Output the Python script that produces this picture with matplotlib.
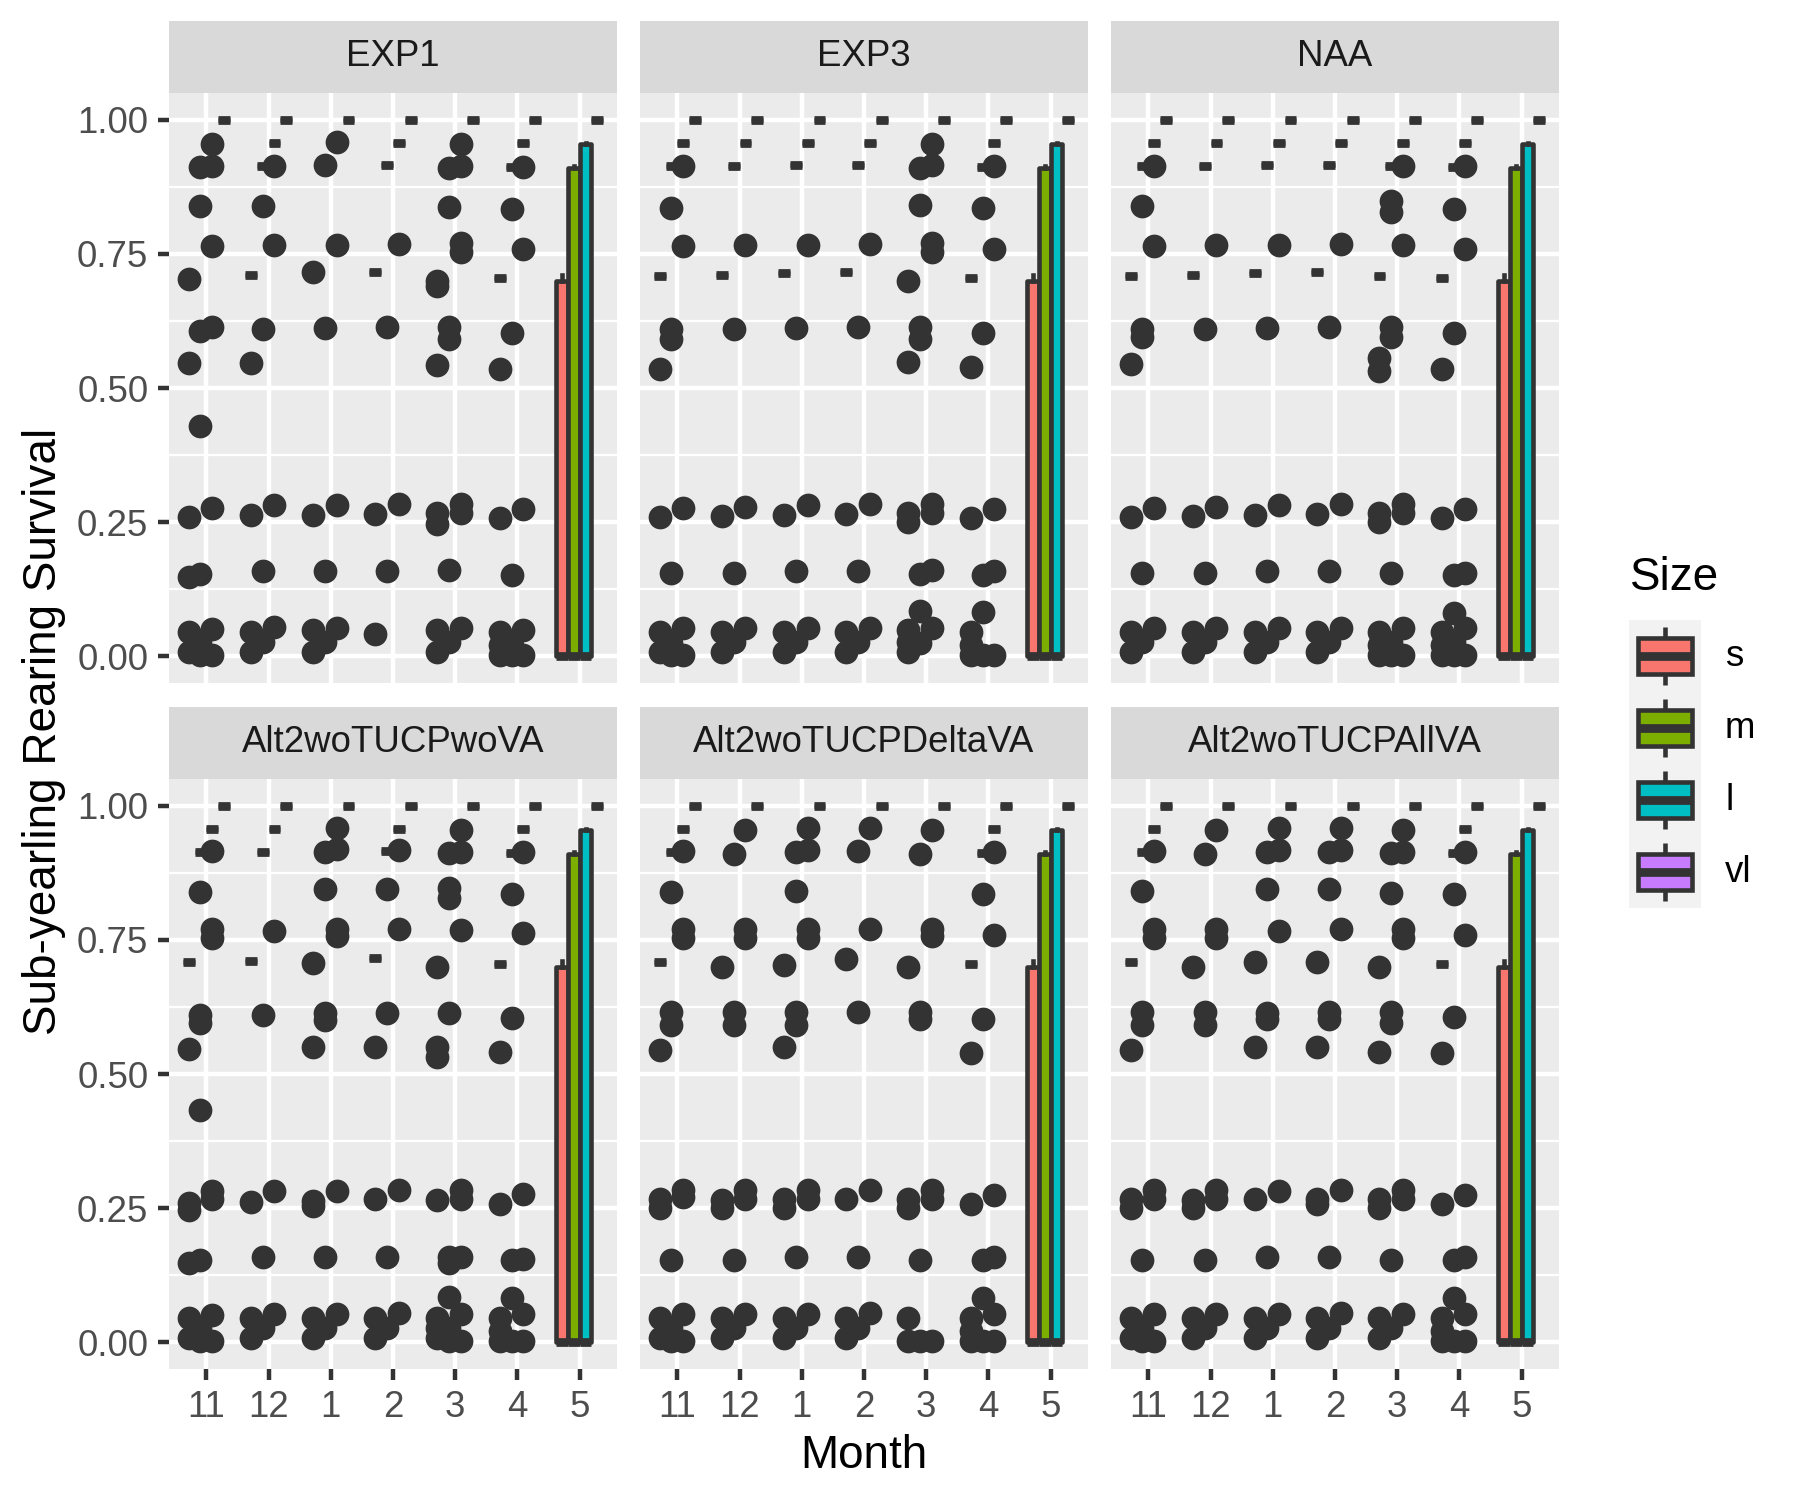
import matplotlib
matplotlib.use("Agg")
import matplotlib.pyplot as plt
from matplotlib.patches import Rectangle
from matplotlib.ticker import FixedLocator

plt.rcParams["font.family"] = ["Liberation Sans", "DejaVu Sans"]

# %% data
MONTHS = ["11", "12", "1", "2", "3", "4", "5"]
SIZES = ["s", "m", "l", "vl"]
SIZE_COLORS = ["#F8766D", "#7CAE00", "#00BFC4", "#C77CFF"]
PANELS = ["EXP1", "EXP3", "NAA",
          "Alt2woTUCPwoVA", "Alt2woTUCPDeltaVA", "Alt2woTUCPAllVA"]

# months 11..4: the boxes are collapsed to a single level
BOX_S = [0.709, 0.711, 0.714, 0.716, 0.708, 0.705]
BOX_M = [0.914, 0.914, 0.916, 0.916, 0.913, 0.912]
BOX_L = [0.957, 0.957, 0.957, 0.957, 0.957, 0.957]
BOX_VL = [1.0, 1.0, 1.0, 1.0, 1.0, 1.0]

# month 5 boxes (s, m, l, vl)
MAY_Q1 = [0.0, 0.0, 0.0, 1.0]
MAY_MED = [0.0, 0.0, 0.0, 1.0]
MAY_Q3 = [0.70, 0.91, 0.955, 1.0]
MAY_HI = [0.71, 0.914, 0.957, 1.0]

# outliers, months 11, 12, 1, 2, 3, 4
EXP1_S = [[0.703, 0.546, 0.26, 0.147, 0.045, 0.007], [0.546, 0.264, 0.045, 0.007],
          [0.716, 0.264, 0.048, 0.007], [0.266, 0.042],
          [0.70, 0.69, 0.543, 0.267, 0.247, 0.048, 0.007], [0.536, 0.257, 0.045, 0.02, 0.003]]
EXP1_M = [[0.912, 0.839, 0.606, 0.43, 0.154, 0.027, 0.003], [0.839, 0.61, 0.158, 0.027],
          [0.916, 0.612, 0.158, 0.027], [0.614, 0.159],
          [0.911, 0.838, 0.613, 0.592, 0.161, 0.027], [0.834, 0.603, 0.152, 0.02, 0.003]]
EXP1_L = [[0.955, 0.914, 0.764, 0.613, 0.277, 0.051, 0.003], [0.914, 0.767, 0.281, 0.055],
          [0.958, 0.767, 0.282, 0.053], [0.769, 0.284],
          [0.955, 0.914, 0.771, 0.753, 0.284, 0.267, 0.053], [0.912, 0.76, 0.274, 0.048, 0.003]]

EXP3_S = [[0.536, 0.26, 0.045, 0.007], [0.262, 0.045, 0.007], [0.264, 0.045, 0.007],
          [0.266, 0.045, 0.007], [0.70, 0.549, 0.267, 0.25, 0.048, 0.027, 0.007],
          [0.539, 0.257, 0.045, 0.02, 0.003]]
EXP3_M = [[0.836, 0.61, 0.592, 0.155, 0.024, 0.003], [0.61, 0.155, 0.026], [0.612, 0.158, 0.026],
          [0.614, 0.159, 0.026], [0.911, 0.842, 0.613, 0.592, 0.154, 0.084, 0.024],
          [0.836, 0.603, 0.152, 0.082, 0.003]]
EXP3_L = [[0.914, 0.764, 0.277, 0.053, 0.003], [0.766, 0.279, 0.053], [0.767, 0.281, 0.053],
          [0.769, 0.284, 0.053], [0.955, 0.916, 0.771, 0.753, 0.284, 0.267, 0.161, 0.053],
          [0.914, 0.76, 0.274, 0.158, 0.003]]

NAA_S = [[0.545, 0.26, 0.045, 0.007], [0.262, 0.045, 0.007], [0.264, 0.045, 0.007],
         [0.266, 0.045, 0.007], [0.555, 0.531, 0.267, 0.25, 0.045, 0.02, 0.003],
         [0.536, 0.257, 0.045, 0.02, 0.003]]
NAA_M = [[0.839, 0.61, 0.595, 0.155, 0.026], [0.61, 0.155, 0.026], [0.612, 0.158, 0.026],
         [0.614, 0.159, 0.026], [0.849, 0.829, 0.613, 0.596, 0.155, 0.027, 0.003],
         [0.834, 0.603, 0.152, 0.081, 0.027, 0.003]]
NAA_L = [[0.914, 0.764, 0.277, 0.053], [0.766, 0.279, 0.053], [0.767, 0.281, 0.053],
         [0.769, 0.284, 0.053], [0.914, 0.767, 0.284, 0.267, 0.053, 0.003],
         [0.914, 0.76, 0.274, 0.155, 0.053, 0.003]]

WOVA_S = [[0.546, 0.26, 0.247, 0.147, 0.045, 0.007], [0.262, 0.045, 0.007],
          [0.707, 0.551, 0.264, 0.253, 0.045, 0.007], [0.551, 0.267, 0.045, 0.007],
          [0.70, 0.551, 0.531, 0.266, 0.045, 0.027, 0.007], [0.541, 0.257, 0.045, 0.02, 0.003]]
WOVA_M = [[0.839, 0.61, 0.596, 0.432, 0.154, 0.027, 0.003], [0.61, 0.158, 0.027],
          [0.914, 0.844, 0.613, 0.60, 0.158, 0.027], [0.844, 0.614, 0.159, 0.027],
          [0.912, 0.846, 0.829, 0.613, 0.158, 0.147, 0.084, 0.027, 0.003],
          [0.836, 0.604, 0.153, 0.082, 0.003]]
WOVA_L = [[0.916, 0.771, 0.753, 0.281, 0.267, 0.051, 0.003], [0.767, 0.281, 0.053],
          [0.958, 0.919, 0.771, 0.757, 0.282, 0.053], [0.918, 0.771, 0.284, 0.055],
          [0.955, 0.914, 0.768, 0.284, 0.267, 0.159, 0.053, 0.003],
          [0.914, 0.762, 0.277, 0.155, 0.053, 0.003]]

DELTA_S = [[0.545, 0.267, 0.25, 0.045, 0.007], [0.70, 0.266, 0.25, 0.045, 0.007],
           [0.704, 0.55, 0.267, 0.25, 0.045, 0.007], [0.714, 0.267, 0.045, 0.007],
           [0.70, 0.267, 0.25, 0.045, 0.003], [0.539, 0.257, 0.045, 0.02, 0.003]]
DELTA_M = [[0.839, 0.615, 0.592, 0.154, 0.026, 0.003], [0.911, 0.615, 0.592, 0.154, 0.026],
           [0.914, 0.842, 0.615, 0.592, 0.158, 0.026], [0.916, 0.615, 0.159, 0.026],
           [0.911, 0.615, 0.603, 0.154, 0.003], [0.836, 0.603, 0.154, 0.082, 0.003]]
DELTA_L = [[0.916, 0.771, 0.753, 0.284, 0.271, 0.053, 0.003],
           [0.955, 0.771, 0.753, 0.284, 0.267, 0.053],
           [0.958, 0.918, 0.771, 0.753, 0.284, 0.267, 0.053], [0.959, 0.771, 0.284, 0.055],
           [0.955, 0.771, 0.757, 0.284, 0.267, 0.003], [0.914, 0.76, 0.275, 0.158, 0.053, 0.003]]

ALLVA_S = [[0.545, 0.267, 0.25, 0.045, 0.007], [0.70, 0.266, 0.25, 0.045, 0.007],
           [0.709, 0.55, 0.267, 0.045, 0.007], [0.709, 0.551, 0.267, 0.257, 0.045, 0.007],
           [0.70, 0.541, 0.267, 0.25, 0.045, 0.007], [0.539, 0.257, 0.045, 0.02, 0.003]]
ALLVA_M = [[0.842, 0.615, 0.592, 0.154, 0.026, 0.003], [0.911, 0.615, 0.592, 0.154, 0.026],
           [0.914, 0.844, 0.613, 0.603, 0.158, 0.026], [0.914, 0.844, 0.615, 0.603, 0.159, 0.026],
           [0.912, 0.837, 0.615, 0.596, 0.154, 0.026], [0.836, 0.606, 0.154, 0.082, 0.003]]
ALLVA_L = [[0.916, 0.771, 0.753, 0.284, 0.267, 0.053, 0.003],
           [0.955, 0.771, 0.753, 0.284, 0.267, 0.053],
           [0.958, 0.918, 0.767, 0.282, 0.053], [0.958, 0.918, 0.771, 0.284, 0.055],
           [0.955, 0.914, 0.771, 0.753, 0.284, 0.267, 0.053],
           [0.914, 0.76, 0.275, 0.158, 0.053, 0.003]]

NO_OUTLIERS = [[], [], [], [], [], []]

PANEL_OUTLIERS = [
    [EXP1_S, EXP1_M, EXP1_L, NO_OUTLIERS],
    [EXP3_S, EXP3_M, EXP3_L, NO_OUTLIERS],
    [NAA_S, NAA_M, NAA_L, NO_OUTLIERS],
    [WOVA_S, WOVA_M, WOVA_L, NO_OUTLIERS],
    [DELTA_S, DELTA_M, DELTA_L, NO_OUTLIERS],
    [ALLVA_S, ALLVA_M, ALLVA_L, NO_OUTLIERS],
]
BOX_LEVELS = [BOX_S, BOX_M, BOX_L, BOX_VL]

# %% layout (pixels of the 1800x1500 output)
W, H = 1800, 1500
PANEL_W = 448
PANEL_H = 590
COL_LEFT = [169, 640, 1111]
ROW_TOP = [93, 779]
STRIP_H = 72
DODGE = [-0.285, -0.095, 0.095, 0.285]
BOX_W = 0.19
INK = "#333333"


def px_rect(left, top, width, height):
    return [left / W, 1 - (top + height) / H, width / W, height / H]


def size_stats(size_idx, outliers):
    stats = []
    for k, level in enumerate(BOX_LEVELS[size_idx]):
        stats.append(dict(med=level, q1=level, q3=level, whislo=level,
                          whishi=level, fliers=outliers[k]))
    stats.append(dict(med=MAY_MED[size_idx], q1=MAY_Q1[size_idx], q3=MAY_Q3[size_idx],
                      whislo=MAY_Q1[size_idx], whishi=MAY_HI[size_idx], fliers=[]))
    return stats


fig = plt.figure(figsize=(6, 5), dpi=300)

for p, name in enumerate(PANELS):
    row, col = divmod(p, 3)
    left, top = COL_LEFT[col], ROW_TOP[row]

    strip = fig.add_axes(px_rect(left, top - STRIP_H, PANEL_W, STRIP_H))
    strip.set_facecolor("#D9D9D9")
    strip.set_xticks([])
    strip.set_yticks([])
    for s in strip.spines.values():
        s.set_visible(False)
    strip.text(0.5, 0.5, name, ha="center", va="center", fontsize=8.8,
               color="#1A1A1A", transform=strip.transAxes)

    ax = fig.add_axes(px_rect(left, top, PANEL_W, PANEL_H))
    ax.set_facecolor("#EBEBEB")
    for s in ax.spines.values():
        s.set_visible(False)
    ax.set_axisbelow(True)

    for j in range(len(SIZES)):
        positions = [m + 1 + DODGE[j] for m in range(len(MONTHS))]
        join = "round" if j < 3 else "miter"
        ax.bxp(size_stats(j, PANEL_OUTLIERS[p][j]), positions=positions,
               widths=BOX_W, patch_artist=True, showcaps=False,
               manage_ticks=False,
               boxprops=dict(facecolor=SIZE_COLORS[j], edgecolor=INK, linewidth=1.1,
                             joinstyle=join),
               whiskerprops=dict(color=INK, linewidth=1.1),
               medianprops=dict(color=INK, linewidth=2.1, solid_capstyle="butt"),
               flierprops=dict(marker="o", markerfacecolor=INK, markeredgecolor=INK,
                               markersize=5.2, markeredgewidth=0.5))

    ax.set_xlim(0.4, 7.6)
    ax.set_ylim(-0.05, 1.05)
    ax.set_xticks(range(1, len(MONTHS) + 1))
    ax.set_xticklabels(MONTHS)
    ax.set_yticks([0, 0.25, 0.5, 0.75, 1.0])
    ax.set_yticklabels(["0.00", "0.25", "0.50", "0.75", "1.00"])
    ax.yaxis.set_minor_locator(FixedLocator([0.125, 0.375, 0.625, 0.875]))
    ax.grid(which="major", color="white", linewidth=1.07)
    ax.grid(which="minor", axis="y", color="white", linewidth=0.53)
    ax.tick_params(which="major", length=2.75, width=1.07, color=INK, pad=2.2,
                   labelsize=8.8, labelcolor="#4D4D4D")
    ax.tick_params(which="minor", length=0)
    if row == 0:
        ax.tick_params(axis="x", length=0, labelbottom=False)
    if col > 0:
        ax.tick_params(axis="y", length=0, labelleft=False)

fig.text(44 / W, 1 - 731 / H, "Sub-yearling Rearing Survival", rotation=90,
         ha="center", va="center", fontsize=11)
fig.text(864 / W, 1 - 1456 / H, "Month", ha="center", va="center", fontsize=11)

# legend
fig.text(1630 / W, 1 - 578 / H, "Size", ha="left", va="center", fontsize=11)
KEY = 72
for j, label in enumerate(SIZES):
    key_top = 620 + j * KEY
    kax = fig.add_axes(px_rect(1629, key_top, KEY, KEY))
    kax.set_xlim(0, 1)
    kax.set_ylim(0, 1)
    kax.axis("off")
    kax.add_patch(Rectangle((0, 0), 1, 1, facecolor="#F2F2F2", edgecolor="none"))
    kax.plot([0.5, 0.5], [0.1, 0.25], color=INK, lw=1.1, solid_capstyle="butt")
    kax.plot([0.5, 0.5], [0.75, 0.9], color=INK, lw=1.1, solid_capstyle="butt")
    kax.add_patch(Rectangle((0.125, 0.25), 0.75, 0.5, facecolor=SIZE_COLORS[j],
                            edgecolor=INK, linewidth=1.1))
    kax.plot([0.125, 0.875], [0.5, 0.5], color=INK, lw=2.1, solid_capstyle="butt")
    fig.text(1725 / W, 1 - (key_top + KEY / 2) / H, label, ha="left", va="center",
             fontsize=8.8)

fig.savefig("out.png", dpi=300, facecolor="white")
